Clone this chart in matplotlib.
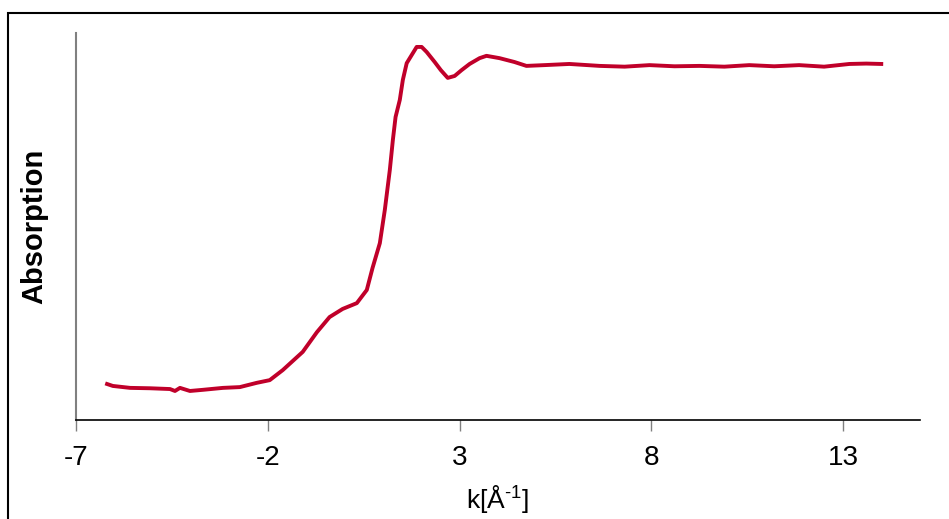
import matplotlib
matplotlib.use("Agg")
import matplotlib.pyplot as plt
from matplotlib.patches import Rectangle

plt.rcParams["font.family"] = ["Liberation Sans", "DejaVu Sans"]
plt.rcParams["mathtext.fontset"] = "custom"
plt.rcParams["mathtext.rm"] = "Liberation Sans"

# edge spectrum (arbitrary absorption units)
k = [-6.19, -6.04, -5.59, -5.07, -4.55, -4.42, -4.29, -4.03, -3.69, -3.17,
     -2.73, -2.29, -1.95, -1.61, -1.09, -0.72, -0.39, -0.05, 0.32, 0.58,
     0.73, 0.92, 1.05, 1.18, 1.26, 1.33, 1.44, 1.52, 1.62, 1.75,
     1.88, 2.01, 2.14, 2.35, 2.51, 2.69, 2.87, 3.05, 3.26, 3.52,
     3.70, 4.04, 4.43, 4.74, 5.21, 5.86, 6.65, 7.30, 7.95, 8.60,
     9.25, 9.90, 10.55, 11.20, 11.85, 12.50, 13.16, 13.60, 13.99]
absorption = [0.093, 0.088, 0.083, 0.082, 0.080, 0.075, 0.083, 0.075, 0.078, 0.083,
              0.085, 0.096, 0.103, 0.129, 0.176, 0.227, 0.266, 0.287, 0.302, 0.336,
              0.393, 0.457, 0.543, 0.646, 0.724, 0.783, 0.827, 0.879, 0.922, 0.943,
              0.964, 0.964, 0.951, 0.925, 0.904, 0.884, 0.889, 0.904, 0.920, 0.935,
              0.941, 0.935, 0.925, 0.915, 0.917, 0.920, 0.915, 0.913, 0.917, 0.914,
              0.915, 0.913, 0.917, 0.914, 0.917, 0.913, 0.920, 0.921, 0.920]
xticks = [-7, -2, 3, 8, 13]

fig = plt.figure(figsize=(9.49, 5.19), dpi=100)
ax = fig.add_axes([76 / 949, 99 / 519, 844 / 949, 387 / 519])

ax.plot(k, absorption, color="#C0002A", linewidth=2.8)

ax.set_xlim(-7, 15)
ax.set_ylim(0, 1)
ax.set_xticks(xticks)
ax.set_xticklabels([str(t) for t in xticks])
ax.set_yticks([])
ax.tick_params(axis="x", direction="out", length=8, width=1, color="#808080",
               labelsize=20, pad=10)

ax.spines["top"].set_visible(False)
ax.spines["right"].set_visible(False)
ax.spines["left"].set_color("#808080")
ax.spines["left"].set_linewidth(1.5)
ax.spines["bottom"].set_color("black")
ax.spines["bottom"].set_linewidth(1.2)

ax.set_xlabel("k[Å$^{\\mathregular{\u20101}}$]", fontsize=19, labelpad=9)
ax.set_ylabel("Absorption", fontsize=21, fontweight="bold", labelpad=20)

# outer frame, cut off at the right and bottom like the original
top = 1 - 13 / 519
fig.patches.append(Rectangle((8 / 949, -0.2), 1.2, top + 0.2,
                             transform=fig.transFigure, fill=False,
                             edgecolor="black", linewidth=1.5))

fig.savefig("out.png", dpi=100)
